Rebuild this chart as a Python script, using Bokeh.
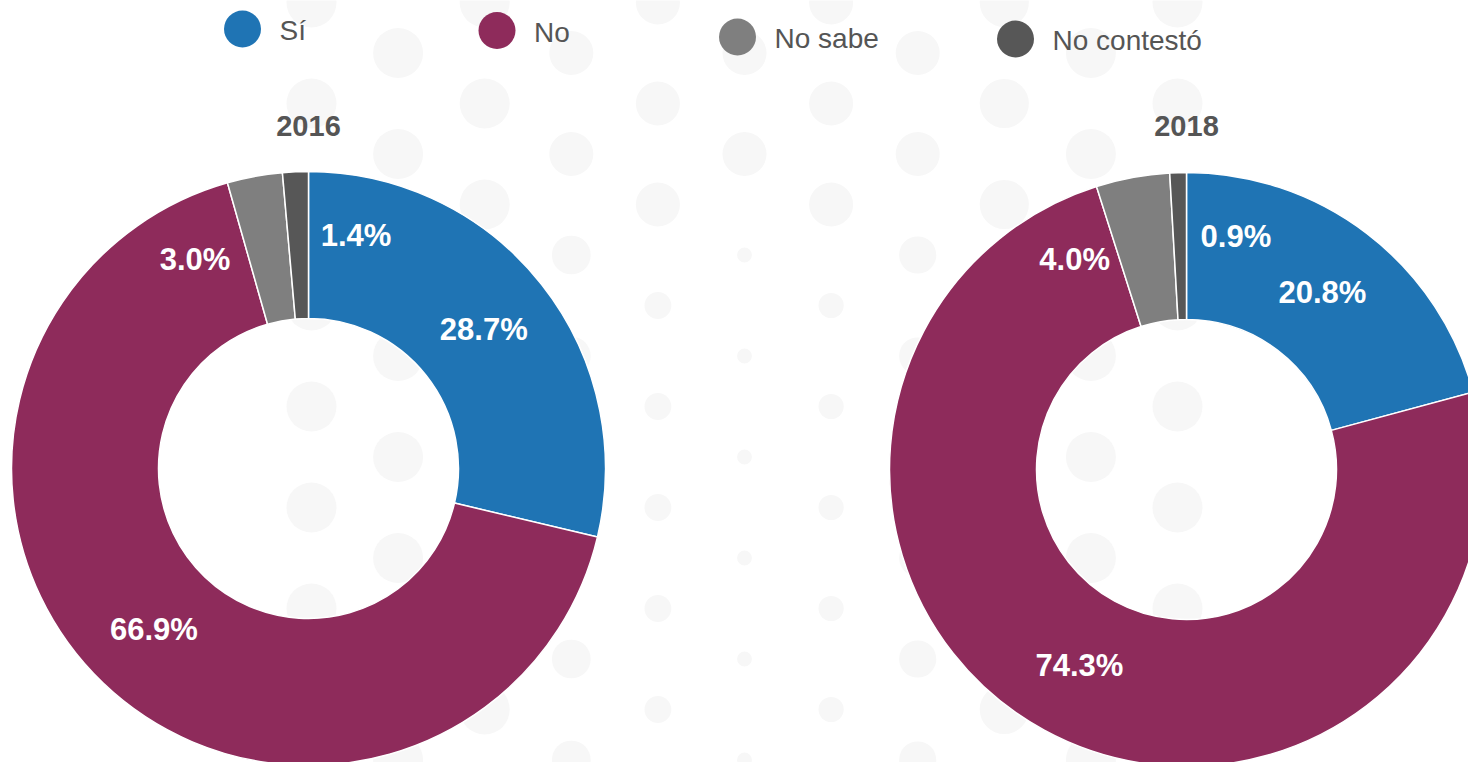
import numpy as np
from bokeh.plotting import figure
from bokeh.models import Range1d, ColumnDataSource
from bokeh.embed import file_html
from bokeh.resources import INLINE
from bokeh.core.properties import value

# ---------------- data ----------------
categories = ["Sí", "No", "No sabe", "No contestó"]
years = ["2016", "2018"]
values_2016 = [28.7, 66.9, 3.0, 1.4]
values_2018 = [20.8, 74.3, 4.0, 0.9]

# ---------------- style / layout ----------------
colors = ["#1f74b4", "#8e2b5b", "#7f7f7f", "#575757"]
FONT = value("Liberation Sans")
TEXT_GRAY = "#555555"
PAGE_W, PAGE_H = 1468, 762
W, H = PAGE_W, PAGE_H
CENTERS = [(308, 468), (1186, 469)]
R_OUT, R_IN = 297, 150
R_LABEL = (R_OUT + R_IN) / 2
R_LABEL_SMALL = 238
SMALL_SEP = 40.0
SMALL_SHIFT = 2.0
legend_x = [242, 496.5, 737, 1015]
legend_y = [28.5, 30, 36.5, 38.5]


def Y(py):
    return PAGE_H - py


p = figure(width=W, height=H, x_range=Range1d(0, PAGE_W), y_range=Range1d(0, PAGE_H),
           output_backend="svg", toolbar_location=None,
           x_axis_location=None, y_axis_location=None, min_border=0)
p.grid.visible = False
p.outline_line_color = None
p.background_fill_color = "white"
p.border_fill_color = "white"

# ---------------- decorative background dots ----------------
bx, by, br = [], [], []
for k in range(0, 11):
    x = 311 + 86.6 * k
    off = 50.5 if k % 2 else 0.0
    for j in range(-1, 9):
        py = 2 + 101 * j + off
        d = min(1.0, abs(x - 750) / 260.0)
        s = 14 + 36 * d
        if py < 220:
            s = max(s, 44)
        bx.append(x)
        by.append(Y(py))
        br.append(s / 2)
p.circle(x=bx, y=by, radius=br, fill_color="#f7f7f7", line_color=None)

# ---------------- donuts ----------------
for yr, vals, (cx, cy) in zip(years, [values_2016, values_2018], CENTERS):
    v = np.array(vals, dtype=float)
    cum = np.cumsum(v)
    before = cum - v
    start = np.deg2rad(90 - cum * 3.6)
    end = np.deg2rad(90 - before * 3.6)
    src = ColumnDataSource(dict(start=start, end=end, color=colors, cat=categories))
    p.annular_wedge(x=cx, y=Y(cy), inner_radius=R_IN, outer_radius=R_OUT,
                    start_angle="start", end_angle="end", direction="anticlock",
                    fill_color="color", line_color="white", line_width=1.5, source=src)

    # label positions: mid-angle, small adjacent slices spread apart
    mid = 90 - (before + v / 2) * 3.6
    mid = ((mid + 180) % 360) - 180
    ang = mid.copy()
    rad = np.full(len(v), R_LABEL)
    small = [i for i, val in enumerate(v) if val < 5]
    if len(small) >= 2:
        m = np.mean(mid[small]) + SMALL_SHIFT
        n = len(small)
        for jj, i in enumerate(small):
            ang[i] = m + SMALL_SEP * ((n - 1) / 2 - jj)
            rad[i] = R_LABEL_SMALL
    lx = cx + rad * np.cos(np.deg2rad(ang))
    ly = Y(cy) + rad * np.sin(np.deg2rad(ang))
    labels = [f"{val:.1f}%" for val in v]
    p.text(x=lx, y=ly, text=labels, text_font=FONT, text_font_style="bold",
           text_font_size="31px", text_color="white", text_align="center",
           text_baseline="middle")

    p.text(x=[cx], y=[Y(125)], text=[yr], text_font=FONT, text_font_style="bold",
           text_font_size="29px", text_color=TEXT_GRAY, text_align="center",
           text_baseline="middle")

# ---------------- legend ----------------
p.circle(x=legend_x, y=[Y(v) for v in legend_y], radius=18.5,
         fill_color=colors, line_color=None)
p.text(x=[x + 37 for x in legend_x], y=[Y(v + 1.5) for v in legend_y], text=categories,
       text_font=FONT, text_font_size="28px", text_color=TEXT_GRAY,
       text_align="left", text_baseline="middle")

open("out.html", "w").write(file_html(p, INLINE))
